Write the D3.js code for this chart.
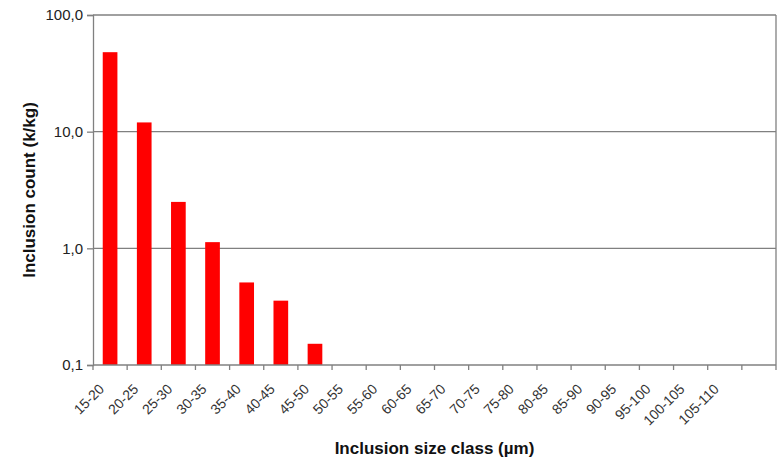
<!DOCTYPE html>
<html>
<head>
<meta charset="utf-8">
<script src="https://cdn.jsdelivr.net/npm/d3@7"></script>
<style>
  html, body { margin: 0; padding: 0; background: #fff; }
  svg { display: block; font-family: "Liberation Sans", Arial, sans-serif; }
</style>
</head>
<body>
<svg id="chart" width="778" height="461"></svg>
<script>
// Size classes (µm); the last slot has no label
const categories = ["15-20","20-25","25-30","30-35","35-40","40-45","45-50","50-55","55-60","60-65",
  "65-70","70-75","75-80","80-85","85-90","90-95","95-100","100-105","105-110",""];
// Inclusion count (k/kg) per class; empty classes are null
const counts = [48, 12, 2.5, 1.13, 0.51, 0.356, 0.152, null, null, null,
  null, null, null, null, null, null, null, null, null, null];
const yTicks = [0.1, 1, 10, 100];
const yTickLabels = ["0,1", "1,0", "10,0", "100,0"];

const svg = d3.select("#chart");
const margin = { left: 93, right: 2, top: 15, bottom: 96 };
const W = 778, H = 461;
const x0 = margin.left, x1 = W - margin.right, y0 = margin.top, y1 = H - margin.bottom;

const x = d3.scaleBand().domain(d3.range(categories.length)).range([x0, x1]).paddingInner(0).paddingOuter(0);
const y = d3.scaleLog().domain([0.1, 100]).range([y1, y0]);

const grey = "#808080";

// horizontal gridlines
svg.append("g").selectAll("line").data(yTicks.slice(1)).join("line")
  .attr("x1", x0).attr("x2", x1)
  .attr("y1", d => y(d)).attr("y2", d => y(d))
  .attr("stroke", grey).attr("stroke-width", 1.3);

// right border
svg.append("line").attr("x1", x1).attr("x2", x1).attr("y1", y0).attr("y2", y1)
  .attr("stroke", grey).attr("stroke-width", 1.3);

// bars
const barW = x.bandwidth() * 0.43;
svg.append("g").selectAll("rect").data(counts.map((v, i) => ({ v, i })).filter(d => d.v != null)).join("rect")
  .attr("x", d => x(d.i) + (x.bandwidth() - barW) / 2)
  .attr("width", barW)
  .attr("y", d => y(d.v))
  .attr("height", d => y1 - y(d.v))
  .attr("fill", "#ff0000");

// y axis
const yAxis = d3.axisLeft(y).tickValues(yTicks).tickFormat((d, i) => yTickLabels[i]).tickSize(6).tickPadding(4);
const gy = svg.append("g").attr("transform", `translate(${x0},0)`).call(yAxis);
gy.select(".domain").attr("stroke", grey).attr("stroke-width", 1.3);
gy.selectAll(".tick line").attr("stroke", grey).attr("stroke-width", 1.3);
gy.selectAll(".tick text").attr("fill", "#222").style("font-size", "15px");

// x axis: ticks at class boundaries
const gx = svg.append("g");
gx.append("line").attr("x1", x0).attr("x2", x1).attr("y1", y1).attr("y2", y1)
  .attr("stroke", grey).attr("stroke-width", 1.3);
const bounds = d3.range(categories.length + 1).map(i => x0 + i * x.bandwidth());
gx.selectAll("line.tk").data(bounds).join("line").attr("class", "tk")
  .attr("x1", d => d).attr("x2", d => d).attr("y1", y1).attr("y2", y1 + 5)
  .attr("stroke", grey).attr("stroke-width", 1.3);
gx.selectAll("text").data(categories.map((c, i) => ({ c, i }))).join("text")
  .attr("transform", d => `translate(${x(d.i) + x.bandwidth() / 2 - 5},${y1 + 25}) rotate(-45)`)
  .attr("text-anchor", "end")
  .attr("fill", "#333")
  .style("font-size", "14px")
  .text(d => d.c);

// axis titles
svg.append("text").attr("x", (x0 + x1) / 2).attr("y", 454).attr("text-anchor", "middle")
  .style("font-size", "17px").style("font-weight", "bold").attr("fill", "#111")
  .text("Inclusion size class (µm)");
svg.append("text").attr("transform", `translate(35,${(y0 + y1) / 2}) rotate(-90)`).attr("text-anchor", "middle")
  .style("font-size", "17px").style("font-weight", "bold").attr("fill", "#111")
  .text("Inclusion count (k/kg)");
</script>
</body>
</html>
